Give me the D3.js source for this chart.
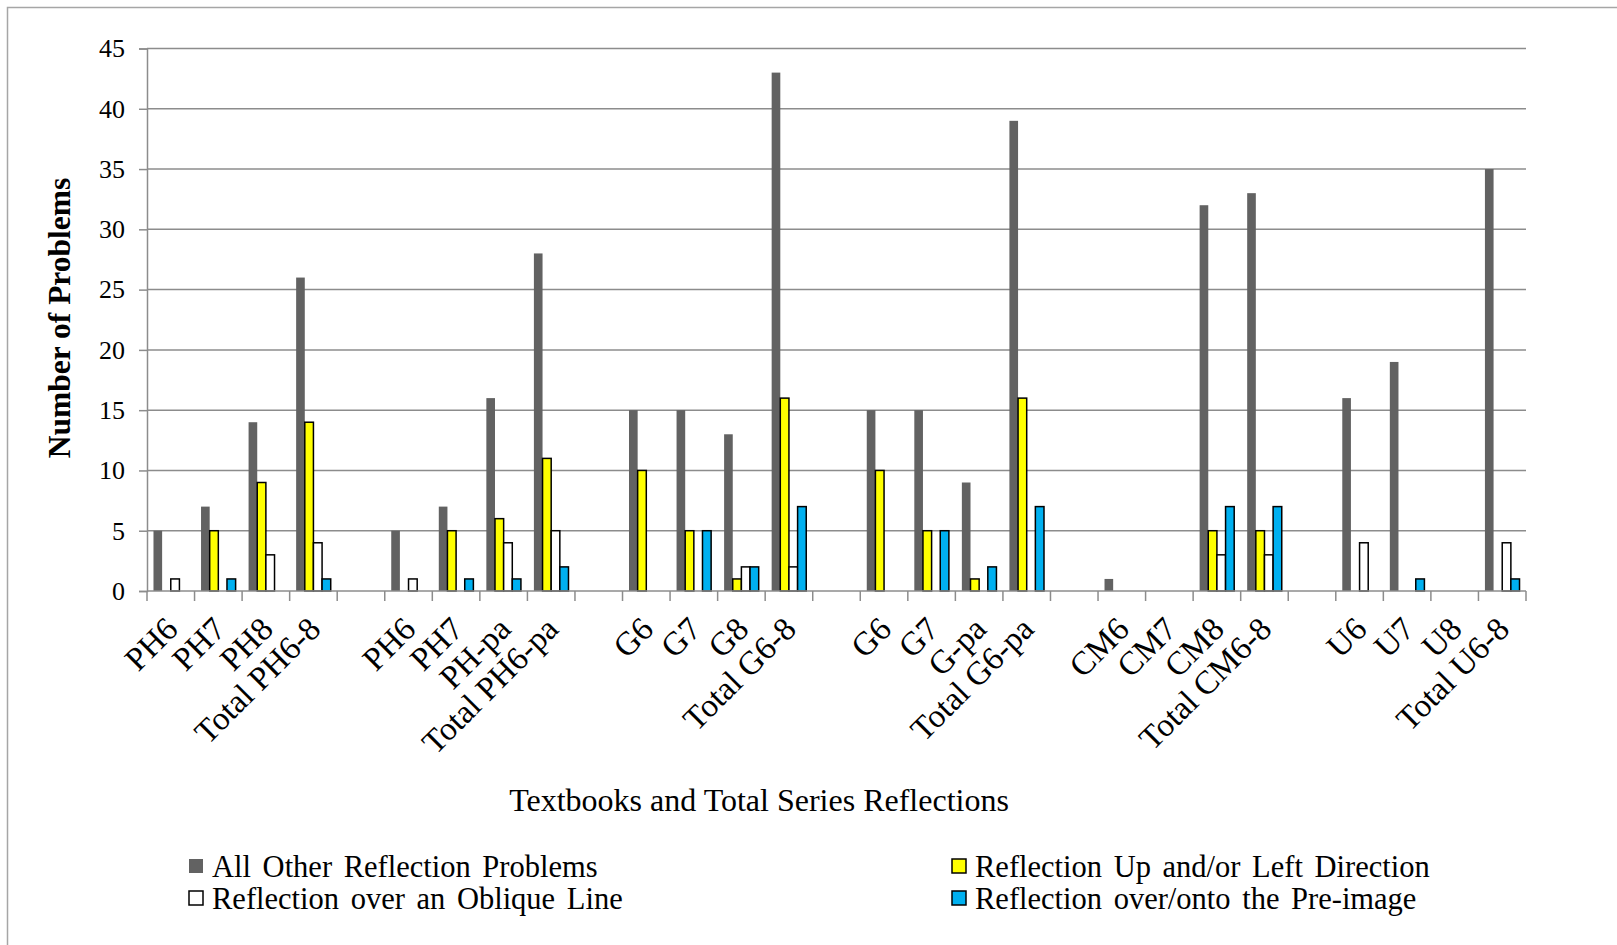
<!DOCTYPE html>
<html>
<head>
<meta charset="utf-8">
<script src="https://cdn.jsdelivr.net/npm/d3@7"></script>
<style>
  html, body { margin: 0; padding: 0; background: #fff; }
  svg { display: block; }
  text { font-family: "Liberation Serif", "Times New Roman", serif; fill: #000; }
</style>
</head>
<body>
<script>
// ---- data ----
const categories = ["PH6","PH7","PH8","Total PH6-8","",
  "PH6","PH7","PH-pa","Total PH6-pa","",
  "G6","G7","G8","Total G6-8","",
  "G6","G7","G-pa","Total G6-pa","",
  "CM6","CM7","CM8","Total CM6-8","",
  "U6","U7","U8","Total U6-8"];
const seriesNames = ["All Other Reflection Problems","Reflection Up and/or Left Direction",
  "Reflection over an Oblique Line","Reflection over/onto the Pre-image"];
const allOther = [5,7,14,26,null, 5,7,16,28,null, 15,15,13,43,null, 15,15,9,39,null, 1,0,32,33,null, 16,19,0,35];
const upLeft   = [0,5,9,14,null, 0,5,6,11,null, 10,5,1,16,null, 10,5,1,16,null, 0,0,5,5,null, 0,0,0,0];
const oblique  = [1,0,3,4,null, 1,0,4,5,null, 0,0,2,2,null, 0,0,0,0,null, 0,0,3,3,null, 4,0,0,4];
const preImage = [0,1,0,1,null, 0,1,1,2,null, 0,5,2,7,null, 0,5,2,7,null, 0,0,7,7,null, 0,1,0,1];
const yTicks = [0,5,10,15,20,25,30,35,40,45];
const yTitle = "Number of Problems";
const xTitle = "Textbooks and Total Series Reflections";

const seriesValues = [allOther, upLeft, oblique, preImage];
const fills = ["#626262", "#FFFF00", "#FFFFFF", "#00B0F0"];
const strokes = ["none", "#000", "#000", "#000"];

// ---- layout ----
const W = 1617, H = 945;
const x0 = 147, x1 = 1526, y0 = 591, yTop = 48.5;

const svg = d3.select("body").append("svg").attr("width", W).attr("height", H);

// outer border
svg.append("rect").attr("x", 7.5).attr("y", 7.5).attr("width", W + 20).attr("height", H + 20)
  .attr("fill", "none").attr("stroke", "#a6a6a6").attr("stroke-width", 1.5);

const idx = categories.map((d, i) => i);
const pad = 1.5 / 5.5;
const x = d3.scaleBand().domain(idx).range([x0, x1]).paddingInner(pad).paddingOuter(pad / 2);
const xs = d3.scaleBand().domain(d3.range(seriesValues.length)).range([0, x.bandwidth()]).padding(0);
const y = d3.scaleLinear().domain([0, 45]).range([y0, yTop]);
const step = x.step();

// gridlines
svg.append("g").selectAll("line").data(yTicks.filter(t => t > 0)).join("line")
  .attr("x1", x0).attr("x2", x1).attr("y1", d => y(d)).attr("y2", d => y(d))
  .attr("stroke", "#8c8c8c").attr("stroke-width", 1.5);

// y axis
const yAxis = d3.axisLeft(y).tickValues(yTicks).tickSize(8).tickPadding(14).tickFormat(d3.format("d"));
const gy = svg.append("g").attr("transform", `translate(${x0},0)`).call(yAxis);
gy.select(".domain").attr("stroke", "#8c8c8c").attr("stroke-width", 1.5);
gy.selectAll(".tick line").attr("stroke", "#8c8c8c").attr("stroke-width", 1.5);
gy.selectAll(".tick text").attr("font-size", 26).attr("fill", "#000");

// bars
const groups = svg.append("g").selectAll("g").data(seriesValues).join("g");
groups.each(function(vals, si) {
  d3.select(this).selectAll("rect")
    .data(vals.map((v, i) => ({v, i})).filter(d => d.v !== null && d.v > 0))
    .join("rect")
    .attr("x", d => x(d.i) + xs(si))
    .attr("width", xs.bandwidth())
    .attr("y", d => y(d.v))
    .attr("height", d => y0 - y(d.v))
    .attr("fill", fills[si])
    .attr("stroke", strokes[si])
    .attr("stroke-width", 1.5);
});

// x axis line + ticks at category boundaries
svg.append("line").attr("x1", x0).attr("x2", x1).attr("y1", y0).attr("y2", y0)
  .attr("stroke", "#8c8c8c").attr("stroke-width", 1.5);
svg.append("g").selectAll("line").data(d3.range(categories.length + 1)).join("line")
  .attr("x1", d => x0 + d * step).attr("x2", d => x0 + d * step)
  .attr("y1", y0).attr("y2", y0 + 10)
  .attr("stroke", "#8c8c8c").attr("stroke-width", 1.5);

// x labels
svg.append("g").selectAll("text").data(idx.filter(i => categories[i] !== "")).join("text")
  .attr("transform", i => `translate(${x(i) + x.bandwidth() / 2 + 9},${y0 + 40}) rotate(-45)`)
  .attr("text-anchor", "end")
  .attr("font-size", 33)
  .text(i => categories[i]);

// axis titles
svg.append("text")
  .attr("transform", `translate(70,318) rotate(-90)`)
  .attr("text-anchor", "middle").attr("font-weight", "bold").attr("font-size", 31.5)
  .text(yTitle);
svg.append("text").attr("x", 759).attr("y", 811).attr("text-anchor", "middle")
  .attr("font-size", 32).text(xTitle);

// legend
const legendPos = [
  {mx: 189, tx: 212, cy: 866},
  {mx: 952, tx: 975, cy: 866},
  {mx: 189, tx: 212, cy: 898},
  {mx: 952, tx: 975, cy: 898}
];
const lg = svg.append("g").selectAll("g").data(seriesNames).join("g");
lg.append("rect")
  .attr("x", (d, i) => legendPos[i].mx).attr("y", (d, i) => legendPos[i].cy - 7)
  .attr("width", 14).attr("height", 14)
  .attr("fill", (d, i) => fills[i])
  .attr("stroke", (d, i) => strokes[i]).attr("stroke-width", 1.5);
lg.append("text")
  .attr("x", (d, i) => legendPos[i].tx).attr("y", (d, i) => legendPos[i].cy)
  .attr("dy", "0.35em").attr("font-size", 30.5)
  .attr("word-spacing", 4)
  .text(d => d);
</script>
</body>
</html>
